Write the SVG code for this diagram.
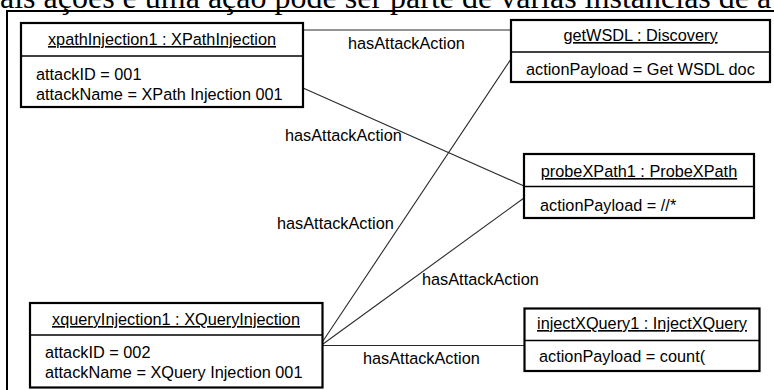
<svg xmlns="http://www.w3.org/2000/svg" width="774" height="390" viewBox="0 0 774 390">
  <style>
    .box { fill: #ffffff; stroke: #000000; stroke-width: 2.2; }
    .div { stroke: #000000; stroke-width: 1.4; }
    .t { font-family: "Liberation Sans", Arial, sans-serif; font-size: 16.3px; fill: #000000; }
    .title { text-anchor: middle; text-decoration: underline; }
    .edge { fill: none; stroke: #2a2a2a; stroke-width: 1.1; }
    .caption { font-family: "Liberation Serif", "Times New Roman", serif; font-size: 32px; fill: #000000; }
  </style>
  <rect width="774" height="390" fill="#ffffff"/>

  <!-- page text line above the figure, clipped by the top edge -->
  <text class="caption" x="0" y="7.5">ais ações e uma ação pode ser parte de várias instâncias de a</text>

  <!-- figure frame -->
  <path d="M7,390 V11 H774" fill="none" stroke="#000000" stroke-width="2"/>

  <!-- associations -->
  <g id="connectors">
    <line class="edge" x1="303" y1="30" x2="511" y2="30"/>
    <line class="edge" x1="303" y1="88" x2="524" y2="186"/>
    <line class="edge" x1="323" y1="341" x2="511" y2="59"/>
    <line class="edge" x1="323" y1="344" x2="524" y2="198"/>
    <line class="edge" x1="323" y1="345.5" x2="524" y2="345.5"/>
    <text class="t" x="348" y="49">hasAttackAction</text>
    <text class="t" x="285" y="141">hasAttackAction</text>
    <text class="t" x="277" y="229">hasAttackAction</text>
    <text class="t" x="422" y="285">hasAttackAction</text>
    <text class="t" x="363" y="364">hasAttackAction</text>
  </g>

  <g id="xpathInjection1">
    <rect class="box" x="21" y="23" width="282" height="84"/>
    <line class="div" x1="21" y1="56" x2="303" y2="56"/>
    <text class="t title" x="162" y="45">xpathInjection1 : XPathInjection</text>
    <text class="t" x="36" y="80">attackID = 001</text>
    <text class="t" x="36" y="99.5">attackName = XPath Injection 001</text>
  </g>

  <g id="getWSDL">
    <rect class="box" x="511" y="20" width="259" height="62"/>
    <line class="div" x1="511" y1="52" x2="770" y2="52"/>
    <text class="t title" x="640.5" y="41">getWSDL : Discovery</text>
    <text class="t" x="526" y="75">actionPayload = Get WSDL doc</text>
  </g>

  <g id="probeXPath1">
    <rect class="box" x="524" y="154" width="230" height="64"/>
    <line class="div" x1="524" y1="186.5" x2="754" y2="186.5"/>
    <text class="t title" x="639" y="177">probeXPath1 : ProbeXPath</text>
    <text class="t" x="540" y="211">actionPayload = //*</text>
  </g>

  <g id="injectXQuery1">
    <rect class="box" x="524.5" y="308.5" width="235" height="62.5"/>
    <line class="div" x1="524.5" y1="340.5" x2="759.5" y2="340.5"/>
    <text class="t title" x="642" y="329">injectXQuery1 : InjectXQuery</text>
    <text class="t" x="539" y="362">actionPayload = count(</text>
  </g>

  <g id="xqueryInjection1">
    <rect class="box" x="30" y="303" width="292.5" height="84.5"/>
    <line class="div" x1="30" y1="335" x2="322.5" y2="335"/>
    <text class="t title" x="176" y="325">xqueryInjection1 : XQueryInjection</text>
    <text class="t" x="45" y="358">attackID = 002</text>
    <text class="t" x="45" y="378">attackName = XQuery Injection 001</text>
  </g>
</svg>
